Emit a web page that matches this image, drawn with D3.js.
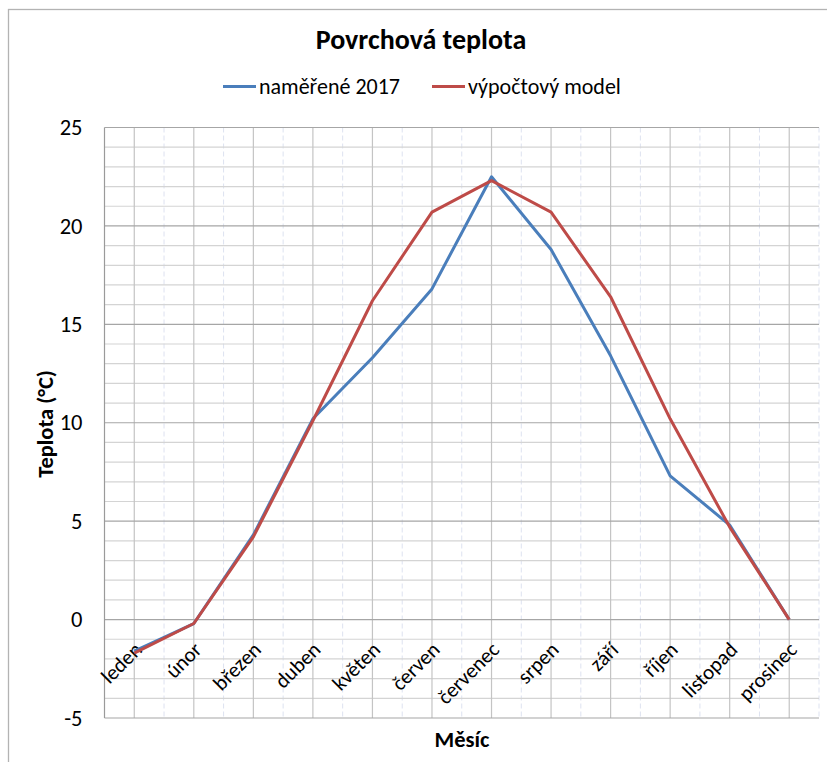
<!DOCTYPE html>
<html>
<head>
<meta charset="utf-8">
<script src="https://cdn.jsdelivr.net/npm/d3@7"></script>
<style>
  html, body { margin: 0; padding: 0; background: #fff; }
  svg { display: block; font-family: Carlito, Calibri, Lato, "Open Sans", sans-serif; }
</style>
</head>
<body>
<svg id="chart" width="827" height="762"></svg>
<script>
// Months on the category axis
const months = ["leden", "únor", "březen", "duben", "květen", "červen",
                "červenec", "srpen", "září", "říjen", "listopad", "prosinec"];
// Measured surface temperature, 2017 (°C)
const measured2017 = [-1.6, -0.2, 4.3, 10.2, 13.3, 16.8, 22.5, 18.8, 13.4, 7.3, 4.8, 0.0];
// Computational model (°C)
const modelValues = [-1.7, -0.2, 4.2, 10.1, 16.2, 20.7, 22.3, 20.7, 16.4, 10.2, 4.7, 0.0];
// Value axis ticks
const yTicks = [-5, 0, 5, 10, 15, 20, 25];
const yMinorTicks = d3.range(-5, 26, 1);

const series = [
  { name: "naměřené 2017", values: measured2017, color: "#4a7ebb" },
  { name: "výpočtový model", values: modelValues, color: "#be4b48" }
];

const svg = d3.select("#chart");
const plot = { left: 104.5, right: 819, top: 127.5, bottom: 718 };

const x = d3.scalePoint().domain(months).range([plot.left, plot.right]).padding(0.5);
const y = d3.scaleLinear().domain([-5, 25]).range([plot.bottom, plot.top]);
const step = x.step();

// Outer chart frame
svg.append("rect")
  .attr("x", 8.5).attr("y", 9.5).attr("width", 840).attr("height", 800)
  .attr("fill", "none").attr("stroke", "#b3b3b3").attr("stroke-width", 1.3);

const grid = svg.append("g");

// Dashed minor vertical lines at category boundaries
grid.selectAll("line.vminor")
  .data(months.map(m => x(m) + step / 2))
  .join("line")
  .attr("x1", d => d).attr("x2", d => d)
  .attr("y1", plot.top).attr("y2", plot.bottom)
  .attr("stroke", "#dde2f0").attr("stroke-width", 1).attr("stroke-dasharray", "5,3");

// Minor horizontal gridlines
grid.selectAll("line.hminor")
  .data(yMinorTicks.filter(v => v % 5 !== 0))
  .join("line")
  .attr("x1", plot.left).attr("x2", plot.right)
  .attr("y1", d => y(d)).attr("y2", d => y(d))
  .attr("stroke", "#d4d4d4").attr("stroke-width", 1.2);

// Solid vertical lines at category centres
grid.selectAll("line.vmajor")
  .data(months)
  .join("line")
  .attr("x1", d => x(d)).attr("x2", d => x(d))
  .attr("y1", plot.top).attr("y2", plot.bottom)
  .attr("stroke", "#c4c4c4").attr("stroke-width", 1.2);

// Major horizontal gridlines
grid.selectAll("line.hmajor")
  .data(yTicks)
  .join("line")
  .attr("x1", plot.left).attr("x2", plot.right)
  .attr("y1", d => y(d)).attr("y2", d => y(d))
  .attr("stroke", "#a6a6a6").attr("stroke-width", 1.2);

// Value axis line
grid.append("line")
  .attr("x1", plot.left).attr("x2", plot.left)
  .attr("y1", plot.top).attr("y2", plot.bottom)
  .attr("stroke", "#9a9a9a").attr("stroke-width", 1.2);

// Value axis labels
const yAxis = svg.append("g")
  .attr("transform", `translate(${plot.left - 22},0)`)
  .call(d3.axisLeft(y).tickValues(yTicks).tickSize(0).tickPadding(0).tickFormat(d => String(d)));
yAxis.select(".domain").remove();
yAxis.attr("font-family", null).attr("font-size", null);
yAxis.selectAll("text")
  .attr("font-size", 22.5).attr("fill", "#000");

// Category labels, rotated
svg.append("g").selectAll("text")
  .data(months)
  .join("text")
  .attr("transform", d => `translate(${x(d) + 9},${651}) rotate(-45)`)
  .attr("text-anchor", "end")
  .attr("font-size", 21)
  .attr("fill", "#000")
  .text(d => d);

// Series lines
const line = d3.line()
  .x((d, i) => x(months[i]))
  .y(d => y(d));

svg.append("g").selectAll("path")
  .data(series)
  .join("path")
  .attr("d", d => line(d.values))
  .attr("fill", "none")
  .attr("stroke", d => d.color)
  .attr("stroke-width", 3)
  .attr("stroke-linejoin", "round");

// Title
svg.append("text")
  .attr("x", 421).attr("y", 49)
  .attr("text-anchor", "middle")
  .attr("font-size", 28).attr("font-weight", "bold")
  .text("Povrchová teplota");

// Legend
const legend = svg.append("g");
const legendItems = [
  { s: series[0], x: 223 },
  { s: series[1], x: 432 }
];
legendItems.forEach(item => {
  legend.append("line")
    .attr("x1", item.x).attr("x2", item.x + 33)
    .attr("y1", 86.5).attr("y2", 86.5)
    .attr("stroke", item.s.color).attr("stroke-width", 3);
  legend.append("text")
    .attr("x", item.x + 36).attr("y", 94)
    .attr("font-size", 22)
    .text(item.s.name);
});

// Axis titles
svg.append("text")
  .attr("x", 462).attr("y", 747)
  .attr("text-anchor", "middle")
  .attr("font-size", 22.5).attr("font-weight", "bold")
  .text("Měsíc");

svg.append("text")
  .attr("transform", `translate(53,424) rotate(-90)`)
  .attr("text-anchor", "middle")
  .attr("font-size", 22.5).attr("font-weight", "bold")
  .text("Teplota (°C)");
</script>
</body>
</html>
